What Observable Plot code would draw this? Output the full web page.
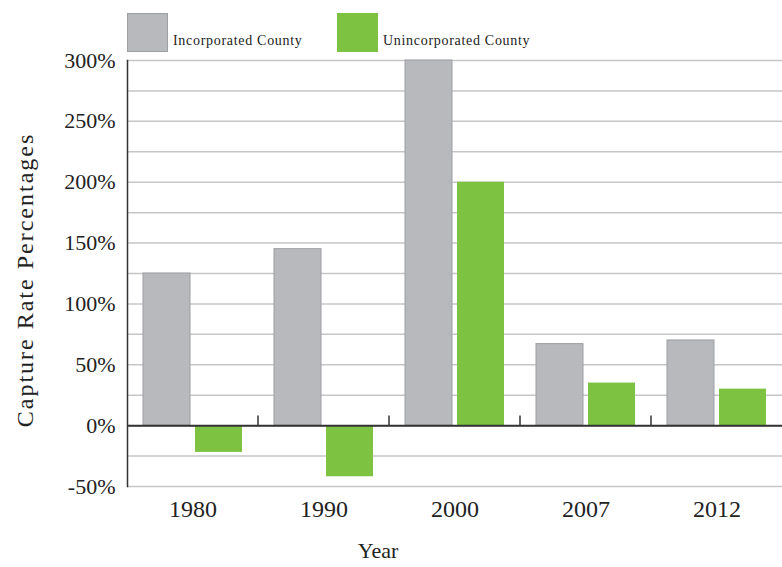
<!DOCTYPE html>
<html>
<head>
<meta charset="utf-8">
<script src="https://cdn.jsdelivr.net/npm/d3@7"></script>
<script src="https://cdn.jsdelivr.net/npm/@observablehq/plot@0.6"></script>
<style>
  body { margin: 0; background: #fff; }
  #wrap { position: relative; width: 782px; height: 567px; overflow: hidden; font-family: "Liberation Serif", serif; color: #222; }
  #wrap svg { position: absolute; left: 0; top: 0; }
  .sw { position: absolute; top: 13px; width: 41px; height: 39px; box-sizing: border-box; }
  .lt { position: absolute; top: 34px; font-size: 14px; line-height: 14px; letter-spacing: 0.7px; white-space: nowrap; }
  #ytitle { position: absolute; left: 25px; top: 280px; transform: translate(-50%, -50%) rotate(-90deg); font-size: 24px; letter-spacing: 2px; white-space: nowrap; }
  #xtitle { position: absolute; left: 378px; top: 551px; transform: translate(-50%, -50%); font-size: 22px; white-space: nowrap; }
</style>
</head>
<body>
<div id="wrap"></div>
<script>
const years = ["1980", "1990", "2000", "2007", "2012"];
const series = ["Incorporated County", "Unincorporated County"];
const incorporated = [125, 145, 300, 67, 70];
const unincorporated = [-22, -42, 200, 35, 30];
const yLabelTicks = [-50, 0, 50, 100, 150, 200, 250, 300];
const yGridTicks = [-50, -25, 0, 25, 50, 75, 100, 125, 150, 175, 200, 225, 250, 275, 300];
const colors = ["#b7b9bc", "#7ec242"];
const yTitle = "Capture Rate Percentages";
const xTitle = "Year";

const table = [];
years.forEach((year, i) => {
  table.push({year, series: series[0], value: incorporated[i]});
  table.push({year, series: series[1], value: unincorporated[i]});
});

const chart = Plot.plot({
  width: 782,
  height: 567,
  marginLeft: 127,
  marginRight: 0,
  marginTop: 60,
  marginBottom: 81,
  style: {fontFamily: "'Liberation Serif', serif", background: "transparent", color: "#222"},
  fx: {domain: years, padding: 0, label: null},
  x: {domain: series, paddingInner: 0.095, paddingOuter: 0.3, axis: null},
  y: {domain: [-50, 300], axis: null},
  color: {domain: series, range: colors},
  marks: [
    Plot.gridY(yGridTicks, {stroke: "#c6c6c6", strokeOpacity: 1, strokeWidth: 1.5}),
    Plot.barY(table.filter(d => d.series === series[0]), {fx: "year", x: "series", y: "value", fill: "series", stroke: "#9d9fa2", strokeWidth: 1}),
    Plot.barY(table.filter(d => d.series === series[1]), {fx: "year", x: "series", y: "value", fill: "series"}),
    Plot.ruleY([0], {stroke: "#333", strokeWidth: 2}),
    Plot.ruleX(years.slice(0, -1), {fx: d => d, x: () => series[1], dx: 39, y1: 0, y2: 8, stroke: "#333", strokeWidth: 1.5}),
    Plot.frame({anchor: "left", facetAnchor: "left", stroke: "#333", strokeWidth: 1.5}),
    Plot.axisY(yLabelTicks, {tickFormat: d => d + "%", tickSize: 0, tickPadding: 12, fontSize: 22, label: null}),
    Plot.axisFx({anchor: "bottom", tickSize: 0, tickPadding: 13, fontSize: 24, label: null})
  ]
});

const wrap = document.getElementById("wrap");
wrap.appendChild(chart);

// legend
const legendPos = [{sw: 127, tx: 173}, {sw: 337, tx: 383}];
series.forEach((s, i) => {
  const sw = document.createElement("div");
  sw.className = "sw";
  sw.style.left = legendPos[i].sw + "px";
  sw.style.background = colors[i];
  if (i === 0) sw.style.border = "1px solid #9d9fa2";
  wrap.appendChild(sw);
  const t = document.createElement("div");
  t.className = "lt";
  t.style.left = legendPos[i].tx + "px";
  t.textContent = s;
  wrap.appendChild(t);
});

const yt = document.createElement("div");
yt.id = "ytitle"; yt.textContent = yTitle; wrap.appendChild(yt);
const xt = document.createElement("div");
xt.id = "xtitle"; xt.textContent = xTitle; wrap.appendChild(xt);
</script>
</body>
</html>
